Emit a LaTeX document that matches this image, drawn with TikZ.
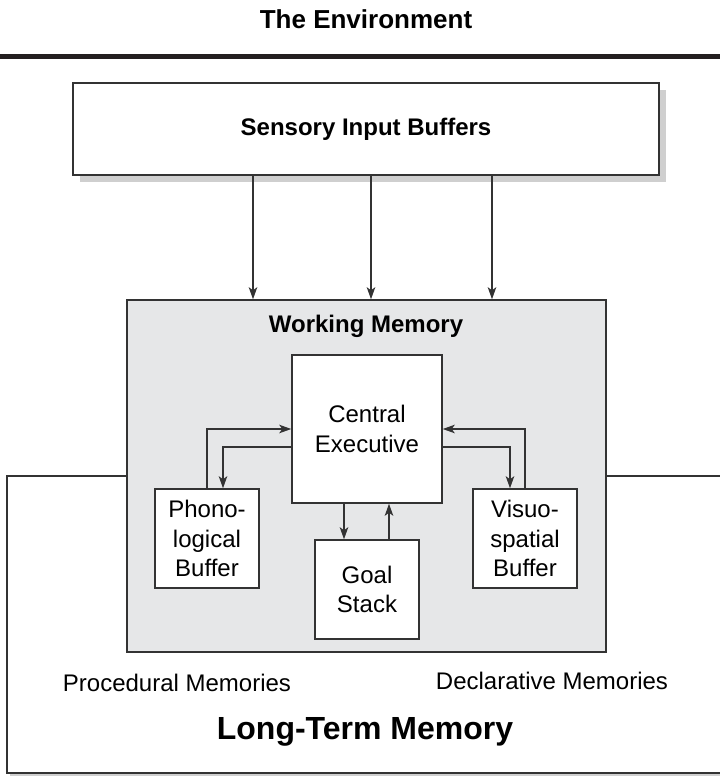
\documentclass[tikz,border=0pt]{standalone}
\usepackage{fontspec}
\setmainfont{Liberation Sans}
\usetikzlibrary{arrows.meta,shadows}
\definecolor{ink}{HTML}{333333}
\definecolor{rule}{HTML}{231F20}
\definecolor{wmfill}{HTML}{E6E7E8}
\definecolor{shade}{HTML}{CFCFCF}
\begin{document}
\begin{tikzpicture}[x=1pt,y=-1pt,
  box/.style={draw=ink, line width=1.5pt, fill=white, align=center,
    inner sep=0pt, font=\fontsize{24}{29.5}\selectfont},
  flow/.style={draw=ink, line width=1.5pt,
    -{Stealth[length=12pt,width=8.5pt,inset=3pt]}},
  title/.style={font=\bfseries\fontsize{24}{29}\selectfont},
  plain/.style={font=\fontsize{24}{29}\selectfont}]
\useasboundingbox (0,0) rectangle (720,777);

% the environment above the thick rule
\node[title, font=\bfseries\fontsize{26}{31}\selectfont] (env) at (366,19) {The Environment};
\draw[line width=5pt, rule] (0,56) -- (720,56);

% sensory input buffers
\node[box, minimum width=586pt, minimum height=92pt,
  drop shadow={shadow xshift=7pt, shadow yshift=-7pt, fill=shade, opacity=1}]
  (sens) at (366,129) {};
\node[title] (senstitle) at (sens.center) {Sensory Input Buffers};

% long-term memory (behind working memory), running off the right edge
\begin{scope}
\clip (0,0) rectangle (720,777);
\node[box, minimum width=730pt, minimum height=297pt,
  drop shadow={shadow xshift=3pt, shadow yshift=-3pt, fill=shade, opacity=1}]
  (ltm) at (372,624.5) {};
\end{scope}
\node[plain] (proc) at (177,683) {Procedural Memories};
\node[plain] (decl) at (552,681) {Declarative Memories};
\node[font=\bfseries\fontsize{32}{38}\selectfont] (ltmtitle) at (365,732) {Long-Term Memory};

% working memory
\node[draw=ink, line width=1.5pt, fill=wmfill, minimum width=479pt,
  minimum height=352pt, inner sep=0pt] (wm) at (366.5,476) {};
\node[title] (wmtitle) at (366,326) {Working Memory};

% components of working memory
\node[box, minimum width=150pt, minimum height=148pt] (ce) at (367,429) {Central\\Executive};
\node[box, minimum width=104pt, minimum height=99pt] (phono) at (207,538.5) {Phono-\\logical\\Buffer};
\node[box, minimum width=104pt, minimum height=99pt] (goal) at (367,589.5) {Goal\\Stack};
\node[box, minimum width=104pt, minimum height=99pt] (visuo) at (525,538.5) {Visuo-\\spatial\\Buffer};

% sensory input into working memory
\path ([xshift=-113pt]sens.south) coordinate (s1)
      ([xshift=5pt]sens.south) coordinate (s2)
      ([xshift=126pt]sens.south) coordinate (s3);
\draw[flow] (s1) -- (s1 |- wm.north);
\draw[flow] (s2) -- (s2 |- wm.north);
\draw[flow] (s3) -- (s3 |- wm.north);

% buffers <-> central executive
\draw[flow] (phono.north) |- (ce.west);
\draw[flow] ([yshift=-18pt]ce.west) -| ([xshift=16pt]phono.north);
\draw[flow] (visuo.north) |- (ce.east);
\draw[flow] ([yshift=-18pt]ce.east) -| ([xshift=-15pt]visuo.north);

% goal stack <-> central executive
\draw[flow] ([xshift=-23pt]ce.south) -- ([xshift=-23pt]goal.north);
\draw[flow] ([xshift=22pt]goal.north) -- ([xshift=22pt]ce.south);
\end{tikzpicture}
\end{document}
